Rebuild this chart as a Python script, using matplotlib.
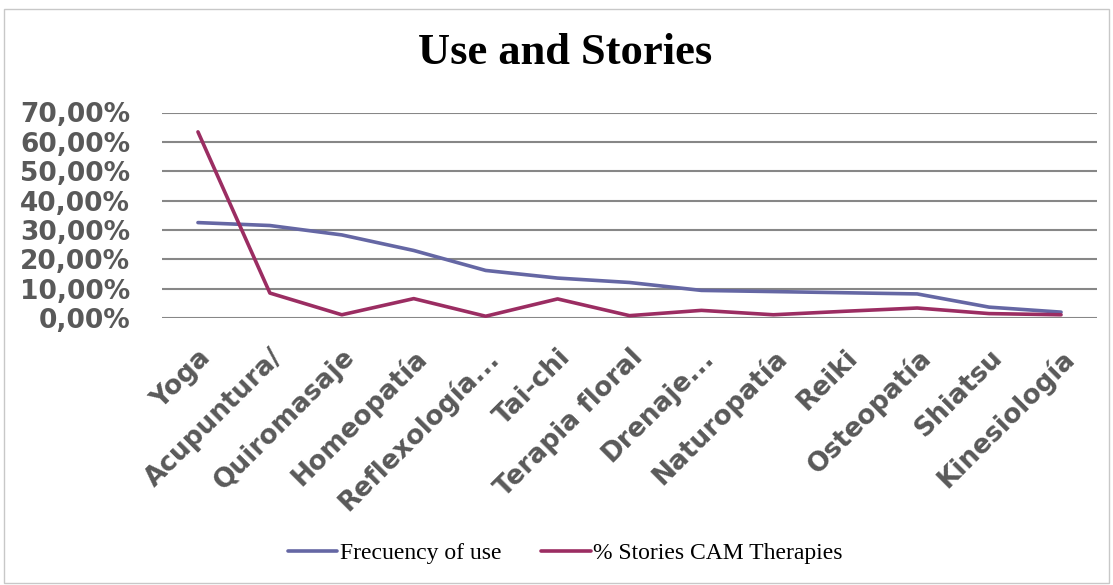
import numpy as np
import matplotlib
matplotlib.use("Agg")
import matplotlib.pyplot as plt
import matplotlib.transforms as mtransforms
from matplotlib.patches import Rectangle
from matplotlib.ticker import FuncFormatter

therapies = ["Yoga", "Acupuntura/", "Quiromasaje", "Homeopatía", "Reflexología...",
             "Tai-chi", "Terapia floral", "Drenaje...", "Naturopatía", "Reiki",
             "Osteopatía", "Shiatsu", "Kinesiología"]
freq_use = [32.5, 31.5, 28.3, 23.0, 16.2, 13.6, 12.1, 9.4, 9.0, 8.6, 8.2, 3.7, 2.0]
stories = [63.4, 8.5, 1.1, 6.6, 0.6, 6.5, 0.8, 2.6, 1.1, 2.3, 3.4, 1.5, 1.1]

W, H = 1113, 585
fig = plt.figure(figsize=(W / 100, H / 100), dpi=100)
ax = fig.add_axes([162 / W, 1 - 318 / H, (1097 - 162) / W, (318 - 112.5) / H])

# chart frame
fig.patches.append(Rectangle((4 / W, 2 / H), (W - 8) / W, (H - 11) / H, transform=fig.transFigure,
                             fill=False, edgecolor="#c8c8c8", linewidth=1.0))

x = np.arange(len(therapies))
ax.plot(x, freq_use, color="#6567A4", linewidth=2.6, label="Frecuency of use", solid_capstyle="round")
ax.plot(x, stories, color="#9B2D62", linewidth=2.6, label="% Stories CAM Therapies", solid_capstyle="round")

ax.set_xlim(-0.5, len(therapies) - 0.5)
ax.set_ylim(0, 70)
ax.set_yticks(np.arange(0, 71, 10))
ax.yaxis.set_major_formatter(FuncFormatter(lambda v, p: f"{v:.2f}%".replace(".", ",")))
ax.grid(axis="y", color="#878787", linewidth=1.5)
ax.set_axisbelow(True)
for s in ax.spines.values():
    s.set_visible(False)
ax.tick_params(axis="both", length=0)
ax.tick_params(axis="y", pad=23)

ax.set_xticks(x)
ax.set_xticklabels(therapies, rotation=45, ha="right", va="top", rotation_mode="anchor")
shift = mtransforms.ScaledTranslation(-5 / 100, 0, fig.dpi_scale_trans)
for lbl in ax.get_xticklabels():
    lbl.set_transform(lbl.get_transform() + shift)
for lbl in ax.get_xticklabels() + ax.get_yticklabels():
    lbl.set_fontfamily("DejaVu Sans")
    lbl.set_fontweight("bold")
    lbl.set_fontsize(19)
    lbl.set_color("#595959")
ax.tick_params(axis="x", pad=19)

fig.text(0.508, 0.91, "Use and Stories", ha="center", va="center",
         fontfamily="Liberation Serif", fontweight="bold", fontsize=32)

fig.legend(loc="center", bbox_to_anchor=(0.508, 0.054), ncol=2, frameon=False,
           prop={"family": "Liberation Serif", "size": 17}, handlelength=2.1,
           handletextpad=0.1, columnspacing=1.7)

fig.savefig("out.png", dpi=100)
